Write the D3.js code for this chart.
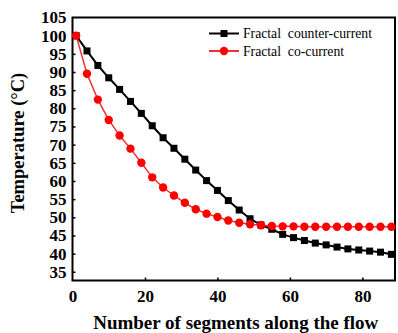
<!DOCTYPE html>
<html>
<head>
<meta charset="utf-8">
<style>
  body { margin: 0; background: #fff; }
  text { font-family: "Liberation Serif", "Times New Roman", serif; }
  .tick text { font-size: 17px; font-weight: bold; }
</style>
</head>
<body>
<script src="https://cdn.jsdelivr.net/npm/d3@7"></script>
<script>
// segment positions along the flow
var segments = [1, 4, 7, 10, 13, 16, 19, 22, 25, 28, 31, 34, 37, 40, 43, 46, 49, 52, 55, 58, 61, 64, 67, 70, 73, 76, 79, 82, 85, 88];

var counterCurrent = [100, 95.8, 91.8, 88.4, 85.2, 81.9, 78.6, 75.2, 71.9, 69.0, 66.0, 63.0, 60.1, 57.4, 54.6, 52.0, 49.6, 47.9, 46.7, 45.3, 44.4, 43.6, 42.9, 42.4, 41.8, 41.3, 41.0, 40.7, 40.4, 39.8];

var coCurrent = [100, 89.5, 82.4, 76.8, 72.5, 68.9, 65.0, 61.0, 58.2, 56.0, 54.0, 52.2, 51.0, 50.1, 49.1, 48.5, 48.1, 47.8, 47.6, 47.5, 47.5, 47.4, 47.4, 47.4, 47.4, 47.4, 47.4, 47.4, 47.4, 47.4];

var xTicks = [0, 20, 40, 60, 80];
var yTicks = [35, 40, 45, 50, 55, 60, 65, 70, 75, 80, 85, 90, 95, 100, 105];

var seriesNames = ["Fractal  counter-current", "Fractal  co-current"];

var width = 398, height = 333;
var margin = {top: 17.5, right: 3, bottom: 52.5, left: 72.5};

var svg = d3.select("body").append("svg")
    .attr("width", width)
    .attr("height", height);

var x = d3.scaleLinear().domain([0, 89]).range([margin.left, width - margin.right]);
var y = d3.scaleLinear().domain([32.6, 105]).range([height - margin.bottom, margin.top]);

// axes with inward ticks
var xAxis = svg.append("g")
    .attr("transform", "translate(0," + (height - margin.bottom) + ")")
    .call(d3.axisBottom(x).tickValues(xTicks).tickSizeInner(-3).tickSizeOuter(0).tickPadding(9));

var yAxis = svg.append("g")
    .attr("transform", "translate(" + margin.left + ",0)")
    .call(d3.axisLeft(y).tickValues(yTicks).tickSizeInner(-3).tickSizeOuter(0).tickPadding(6));

[xAxis, yAxis].forEach(function(a) {
  a.select(".domain").remove();
  a.selectAll(".tick line").attr("stroke", "#000").attr("stroke-width", 1.5);
  a.selectAll(".tick text").attr("fill", "#000");
});
// hide the tick mark at the frame edge
xAxis.selectAll(".tick").filter(function(d) { return d === 0; }).select("line").remove();
yAxis.selectAll(".tick").filter(function(d) { return d === 105; }).select("line").remove();

// frame
svg.append("rect")
    .attr("x", margin.left)
    .attr("y", margin.top)
    .attr("width", width - margin.left - margin.right)
    .attr("height", height - margin.top - margin.bottom)
    .attr("fill", "none")
    .attr("stroke", "#000")
    .attr("stroke-width", 2);

var line = d3.line()
    .x(function(d) { return x(d[0]); })
    .y(function(d) { return y(d[1]); });

var blackData = segments.map(function(s, i) { return [s, counterCurrent[i]]; });
var redData = segments.map(function(s, i) { return [s, coCurrent[i]]; });

// black series first, red drawn on top
svg.append("path")
    .datum(blackData)
    .attr("d", line)
    .attr("fill", "none")
    .attr("stroke", "#000")
    .attr("stroke-width", 2);

svg.append("g").selectAll("rect")
    .data(blackData)
    .enter().append("rect")
    .attr("x", function(d) { return x(d[0]) - 3.5; })
    .attr("y", function(d) { return y(d[1]) - 3.5; })
    .attr("width", 7)
    .attr("height", 7)
    .attr("fill", "#000");

svg.append("path")
    .datum(redData)
    .attr("d", line)
    .attr("fill", "none")
    .attr("stroke", "#f03030")
    .attr("stroke-width", 1.5);

svg.append("g").selectAll("circle")
    .data(redData)
    .enter().append("circle")
    .attr("cx", function(d) { return x(d[0]); })
    .attr("cy", function(d) { return y(d[1]); })
    .attr("r", 4.2)
    .attr("fill", "#ff0000");

// legend
var legend = svg.append("g");
var legendRows = [
  {name: seriesNames[0], color: "#000", marker: "square", y: 33.5},
  {name: seriesNames[1], color: "#f03030", marker: "circle", y: 51}
];
legendRows.forEach(function(r) {
  legend.append("line")
      .attr("x1", 209).attr("x2", 239)
      .attr("y1", r.y).attr("y2", r.y)
      .attr("stroke", r.color)
      .attr("stroke-width", 2);
  if (r.marker === "square") {
    legend.append("rect")
        .attr("x", 224 - 3.5).attr("y", r.y - 3.5)
        .attr("width", 7).attr("height", 7)
        .attr("fill", "#000");
  } else {
    legend.append("circle")
        .attr("cx", 224).attr("cy", r.y).attr("r", 4.2)
        .attr("fill", "#ff0000");
  }
  legend.append("text")
      .attr("x", 243)
      .attr("y", r.y + 4.5)
      .style("font-size", "13.7px")
      .style("white-space", "pre")
      .attr("xml:space", "preserve")
      .text(r.name);
});

// axis titles
svg.append("text")
    .attr("x", (margin.left + width - margin.right) / 2 + 2)
    .attr("y", 329)
    .attr("text-anchor", "middle")
    .style("font-size", "19px")
    .style("font-weight", "bold")
    .text("Number of segments along the flow");

svg.append("text")
    .attr("transform", "translate(24,143) rotate(-90)")
    .attr("text-anchor", "middle")
    .style("font-size", "18.5px")
    .style("font-weight", "bold")
    .text("Temperature (°C)");
</script>
</body>
</html>
